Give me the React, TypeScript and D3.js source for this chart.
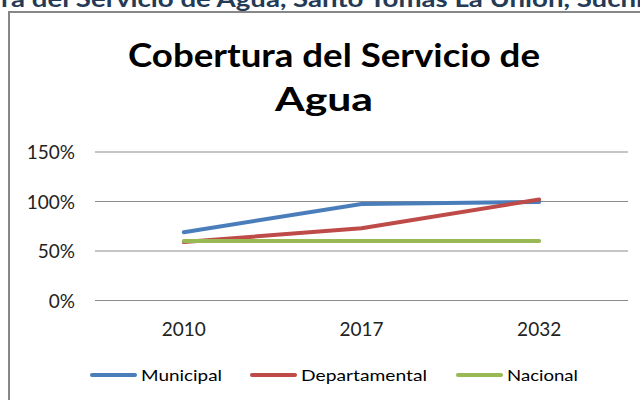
import React from "react";
import * as d3 from "d3";

const years = ["2010", "2017", "2032"];
const municipal = [0.69, 0.975, 0.995];
const departamental = [0.59, 0.73, 1.02];
const nacional = [0.6, 0.6, 0.6];
const yTicks = [0, 0.5, 1, 1.5];
const seriesNames = ["Municipal", "Departamental", "Nacional"];
const seriesColors = ["#4A7EBB", "#BE4B48", "#98B954"];
const chartTitle = ["Cobertura del Servicio de", "Agua"];
const topCaption = "ra del Servicio de Agua, Santo Tomás La Unión, Suchitepéquez";

export default function App() {
  const W = 640, H = 400;
  const x = d3.scalePoint<string>().domain(years).range([95, 628]).padding(0.5);
  const y = d3.scaleLinear().domain([0, 1.5]).range([300.5, 152]);
  const line = d3.line<number>().x((_, i) => x(years[i]) as number).y((d) => y(d));
  const all = [municipal, departamental, nacional];
  const fmt = d3.format(".0%");
  const legendX = [90, 250, 456];
  const legendW = [81, 126, 71];
  const font = "Lato, 'Open Sans', sans-serif";
  return (
    <svg width={W} height={H} style={{ position: "fixed", left: 0, top: 0, background: "#fff" }} fontFamily={font}>
      <rect x={0} y={0} width={W} height={H} fill="#fff" />
      <text x={1} y={7} fontSize={22} fontWeight="bold" fill="#243a55" textLength={756} lengthAdjust="spacingAndGlyphs">{topCaption}</text>
      <rect x={9} y={12} width={700} height={500} fill="#fff" stroke="#878787" strokeWidth={2} />
      <text x={334} y={67} textAnchor="middle" fontSize={33} fontWeight="bold" fill="#000" textLength={412} lengthAdjust="spacingAndGlyphs">{chartTitle[0]}</text>
      <text x={324} y={111} textAnchor="middle" fontSize={33} fontWeight="bold" fill="#000" textLength={98} lengthAdjust="spacingAndGlyphs">{chartTitle[1]}</text>
      {yTicks.map((t) => (
        <g key={t}>
          <line x1={95} x2={628} y1={y(t)} y2={y(t)} stroke="#8c8c8c" strokeWidth={1.2} />
          <text x={75} y={y(t) + 7} textAnchor="end" fontSize={19} fill="#222">{fmt(t)}</text>
        </g>
      ))}
      {years.map((yr) => (
        <text key={yr} x={x(yr) as number} y={336} textAnchor="middle" fontSize={19} fill="#222">{yr}</text>
      ))}
      {all.map((s, i) => (
        <path key={i} d={line(s) as string} fill="none" stroke={seriesColors[i]} strokeWidth={4} strokeLinecap="round" strokeLinejoin="round" />
      ))}
      {seriesNames.map((n, i) => (
        <g key={n}>
          <line x1={legendX[i] + 2} x2={legendX[i] + 45} y1={375} y2={375} stroke={seriesColors[i]} strokeWidth={4} strokeLinecap="round" />
          <text x={legendX[i] + 51} y={381} fontSize={16} fill="#000" textLength={legendW[i]} lengthAdjust="spacingAndGlyphs">{n}</text>
        </g>
      ))}
    </svg>
  );
}
